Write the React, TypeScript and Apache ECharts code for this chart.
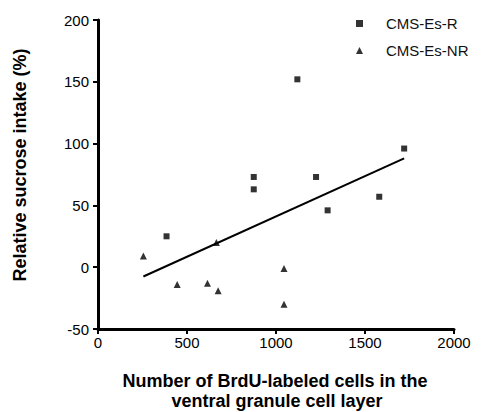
import React, { useEffect, useRef } from "react";
import * as echarts from "echarts";

const xTicks = [0, 500, 1000, 1500, 2000];
const yTicks = [-50, 0, 50, 100, 150, 200];

const seriesNames = ["CMS-Es-R", "CMS-Es-NR"];

const respondersX = [385, 875, 875, 1120, 1225, 1290, 1580, 1720];
const respondersY = [25, 73, 63, 152, 73, 46, 57, 96];

const nonRespondersX = [255, 445, 615, 665, 675, 1045, 1045];
const nonRespondersY = [9, -14, -13, 20, -19, -1, -30];

const fitX = [255, 1720];
const fitY = [-7.5, 88];

const yTitle = "Relative sucrose intake (%)";
const xTitle = ["Number of BrdU-labeled cells in the", "ventral granule cell layer"];

const FONT = "'Liberation Sans', Arial, Helvetica, sans-serif";

export default function App() {
  const ref = useRef<HTMLDivElement>(null);
  useEffect(() => {
    if (!ref.current) return;
    const chart = echarts.init(ref.current, undefined, { renderer: "svg" });
    const zip = (xs: number[], ys: number[]) => xs.map((x, i) => [x, ys[i]]);
    chart.setOption({
      animation: false,
      backgroundColor: "#ffffff",
      textStyle: { fontFamily: FONT },
      grid: { left: 98, right: 28, top: 20, bottom: 83, containLabel: false },
      legend: {
        orient: "vertical",
        left: 351,
        top: 11,
        itemWidth: 7,
        itemHeight: 7,
        itemGap: 12,
        data: [
          { name: seriesNames[0], icon: "rect" },
          { name: seriesNames[1], icon: "triangle" },
        ],
        textStyle: { fontSize: 15, color: "#111", fontFamily: FONT, padding: [0, 0, 0, 18] },
      },
      xAxis: {
        type: "value",
        min: xTicks[0],
        max: xTicks[xTicks.length - 1],
        interval: 500,
        splitLine: { show: false },
        axisLine: { onZero: false, lineStyle: { color: "#000", width: 3 } },
        axisTick: { length: 5, lineStyle: { color: "#000", width: 2 } },
        axisLabel: {
          fontSize: 15,
          color: "#000",
          margin: 6,
          fontFamily: FONT,
          formatter: (v: number) => String(v),
        },
      },
      yAxis: {
        type: "value",
        min: yTicks[0],
        max: yTicks[yTicks.length - 1],
        interval: 50,
        splitLine: { show: false },
        axisLine: { onZero: false, lineStyle: { color: "#000", width: 3 } },
        axisTick: { length: 5, lineStyle: { color: "#000", width: 2 } },
        axisLabel: {
          fontSize: 15,
          color: "#000",
          margin: 9,
          fontFamily: FONT,
          formatter: (v: number) => String(v),
        },
      },
      series: [
        {
          name: seriesNames[0],
          type: "scatter",
          symbol: "rect",
          symbolSize: 6,
          itemStyle: { color: "#000" },
          data: zip(respondersX, respondersY),
          z: 3,
        },
        {
          name: seriesNames[1],
          type: "scatter",
          symbol: "triangle",
          symbolSize: 7,
          itemStyle: { color: "#000" },
          data: zip(nonRespondersX, nonRespondersY),
          z: 3,
        },
        {
          name: "fit",
          type: "line",
          showSymbol: false,
          symbol: "none",
          lineStyle: { color: "#000", width: 2 },
          data: zip(fitX, fitY),
          z: 2,
        },
      ],
      graphic: [
        {
          type: "text",
          x: 20,
          y: 165,
          rotation: Math.PI / 2,
          style: {
            text: yTitle,
            font: `bold 18px ${FONT}`,
            fill: "#000",
            align: "center",
            verticalAlign: "middle",
          },
        },
        {
          type: "text",
          x: 275,
          y: 381,
          style: {
            text: xTitle[0],
            font: `bold 18px ${FONT}`,
            fill: "#000",
            align: "center",
            verticalAlign: "middle",
          },
        },
        {
          type: "text",
          x: 277,
          y: 401,
          style: {
            text: xTitle[1],
            font: `bold 18px ${FONT}`,
            fill: "#000",
            align: "center",
            verticalAlign: "middle",
          },
        },
      ],
    });
    return () => chart.dispose();
  }, []);
  return <div ref={ref} style={{ width: 482, height: 412, position: "absolute", left: 0, top: 0 }} />;
}
